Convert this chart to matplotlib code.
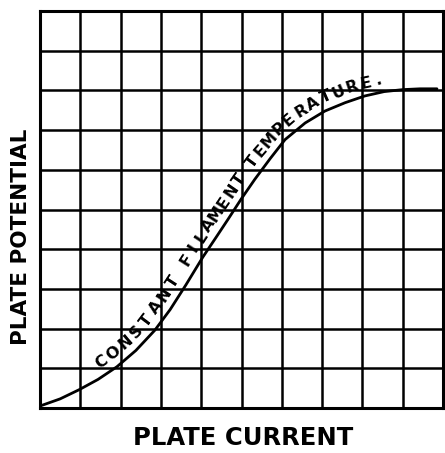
import numpy as np
import matplotlib.pyplot as plt

# characteristic read in grid squares (10 x 10 grid)
plate_current = [0.0, 0.50, 0.97, 1.44, 1.91, 2.38, 2.85, 3.23, 3.62, 4.04, 4.37, 4.67,
                 4.99, 5.33, 5.71, 6.08, 6.58, 7.07, 7.57, 8.06, 8.54, 9.01, 9.43, 9.85]
plate_potential = [0.05, 0.23, 0.46, 0.72, 1.04, 1.45, 1.96, 2.48, 3.10, 3.80, 4.30, 4.76,
                   5.26, 5.76, 6.28, 6.76, 7.18, 7.48, 7.69, 7.86, 7.97, 8.02, 8.04, 8.04]
label_words = ["CONSTANT", "FILAMENT", "TEMPERATURE."]
n_cells = 10

fig = plt.figure(figsize=(4.45, 4.53), dpi=100)
ax = fig.add_axes([40 / 445, 45 / 453, 403 / 445, 397 / 453])
ax.set_xlim(0, n_cells)
ax.set_ylim(0, n_cells)

for k in range(n_cells + 1):
    ax.axvline(k, color="black", lw=1.8)
    ax.axhline(k, color="black", lw=1.8)
for s in ax.spines.values():
    s.set_linewidth(2.2)
ax.set_xticks([])
ax.set_yticks([])

ax.plot(plate_current, plate_potential, color="black", lw=2.0,
        solid_capstyle="round", solid_joinstyle="round")

# letter the curve: one glyph at a time, following the tangent
fig.canvas.draw()
pts = ax.transData.transform(np.column_stack([plate_current, plate_potential]))
seg = np.diff(pts, axis=0)
seglen = np.hypot(seg[:, 0], seg[:, 1])
unit = seg / seglen[:, None]
cum = np.concatenate([[0], np.cumsum(seglen)])
inv = ax.transData.inverted()
word_start = [77, 216, 333]   # arc length (px) of each word's first letter
word_step = [16.2, 13.6, 13.3]
offset = 12.5

for word, s0, ds in zip(label_words, word_start, word_step):
    for i, ch in enumerate(word):
        s = s0 + i * ds
        j = min(np.searchsorted(cum, s) - 1, len(seg) - 1)
        t = (s - cum[j]) / seglen[j]
        p = pts[j] + t * seg[j]
        d = unit[max(j - 1, 0)] + 2 * unit[j] + unit[min(j + 1, len(seg) - 1)]
        d = d / np.hypot(*d)
        normal = np.array([-d[1], d[0]])
        q = inv.transform(p + normal * offset)
        ang = np.degrees(np.arctan2(d[1], d[0]))
        ax.text(q[0], q[1], ch, rotation=ang, rotation_mode="anchor",
                ha="center", va="center", fontsize=11.5, fontweight="bold")

fig.text(21 / 445, 1 - 237 / 453, "PLATE POTENTIAL", rotation=90,
         ha="center", va="center", fontsize=15.5, fontweight="bold")
fig.text(243 / 445, 1 - 438 / 453, "PLATE CURRENT",
         ha="center", va="center", fontsize=17.5, fontweight="bold")

fig.savefig("out.png", dpi=100, facecolor="white")
